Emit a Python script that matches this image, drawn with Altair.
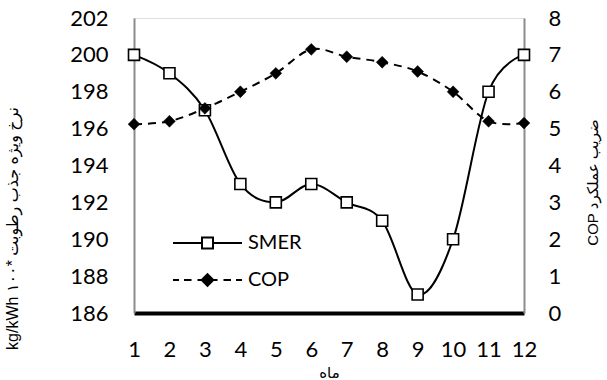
import altair as alt
import pandas as pd

months = [1, 2, 3, 4, 5, 6, 7, 8, 9, 10, 11, 12]
smer = [200, 199, 197, 193, 192, 193, 192, 191, 187, 190, 198, 200]
cop = [5.12, 5.2, 5.55, 6.0, 6.5, 7.15, 6.95, 6.8, 6.55, 6.0, 5.2, 5.15]
series = ["SMER", "COP"]
left_ticks = [186, 188, 190, 192, 194, 196, 198, 200, 202]
right_ticks = [0, 1, 2, 3, 4, 5, 6, 7, 8]

left_title = "kg/kWh ۱۰۰* نرخ ویژه جذب رطوبت"
right_title = "COP ضریب عملکرد"
x_title = "ماه"

NUM_FONT = "Lato"
TXT_FONT = "Liberation Sans, DejaVu Sans"

df = pd.DataFrame({"month": months, "smer": smer, "cop": cop})
leg_df = pd.DataFrame({"series": series, "month": [1, 1]})

x_enc = alt.X(
    "month:Q",
    scale=alt.Scale(domain=[1, 12], nice=False, zero=False),
    axis=alt.Axis(
        values=months, title=x_title, grid=False, ticks=False, labelOverlap=False,
        labelFlush=False, domainColor="black", domainWidth=4,
        labelFont=NUM_FONT, labelFontSize=22, labelColor="black", labelPadding=26,
        titleFont=TXT_FONT, titleFontSize=15, titleFontWeight="normal", titleColor="black",
        titleY=59, titleBaseline="middle",
    ),
)

smer_scale = alt.Scale(domain=[186, 202], nice=False, zero=False)
smer_axis = alt.Axis(
    values=left_ticks, title=left_title, grid=False, ticks=False, labelOverlap=False,
    labelFlush=False, domainColor="#8c8c8c", domainWidth=2,
    labelFont=NUM_FONT, labelFontSize=22, labelColor="black", labelPadding=26,
    titleFont=TXT_FONT, titleFontSize=16, titleFontWeight="normal", titleColor="black",
    titleAngle=270, titleX=-122, titleY=210, titleAlign="center", titleBaseline="middle",
)
cop_scale = alt.Scale(domain=[0, 8], nice=False, zero=False)
cop_axis = alt.Axis(
    orient="right", values=right_ticks, title=right_title, grid=False, ticks=False,
    labelOverlap=False, labelFlush=False, domainColor="#8c8c8c", domainWidth=2,
    labelFont=NUM_FONT, labelFontSize=22, labelColor="black", labelPadding=24,
    titleFont=TXT_FONT, titleFontSize=15, titleFontWeight="normal", titleColor="black",
    titleAngle=270, titleX=68, titleY=164, titleAlign="center", titleBaseline="middle",
)

base = alt.Chart(df)

smer_line = base.mark_line(color="black", strokeWidth=2, interpolate="cardinal").encode(
    x=x_enc, y=alt.Y("smer:Q", scale=smer_scale, axis=smer_axis)
)
smer_pts = base.mark_point(shape="square", size=121, filled=True, fill="white",
                           stroke="black", strokeWidth=1.6, opacity=1).encode(
    x=x_enc, y=alt.Y("smer:Q", scale=smer_scale, axis=smer_axis)
)
cop_line = base.mark_line(color="black", strokeWidth=2, strokeDash=[8, 6],
                          interpolate="cardinal").encode(
    x=x_enc, y=alt.Y("cop:Q", scale=cop_scale, axis=cop_axis)
)
cop_pts = base.mark_point(shape="diamond", size=140, filled=True, fill="black",
                          stroke="black", strokeWidth=0.5, opacity=1).encode(
    x=x_enc, y=alt.Y("cop:Q", scale=cop_scale, axis=cop_axis)
)

path_smer = "M-3.45,0L-0.55,0M0.55,0L3.45,0M-0.55,-0.55L0.55,-0.55L0.55,0.55L-0.55,0.55Z"
path_cop = ("M-3.45,0L-2.85,0M-2.35,0L-1.6,0M-1.0,0L1.0,0M1.6,0L2.35,0M2.85,0L3.45,0"
            "M0,-0.58L0.58,0L0,0.58L-0.58,0Z")

leg = alt.Legend(
    title=None, orient="none", legendX=62.5, legendY=214, padding=0,
    symbolSize=400, symbolStrokeWidth=2, symbolStrokeColor="black", symbolOpacity=1,
    labelFont=NUM_FONT, labelFontSize=20, labelColor="black",
    labelOffset=29.5, rowPadding=16,
)
legend_layer = alt.Chart(leg_df).mark_point(opacity=0, filled=True, strokeWidth=2).encode(
    x=x_enc,
    shape=alt.Shape("series:N", scale=alt.Scale(domain=series, range=[path_smer, path_cop]),
                    legend=leg),
    fill=alt.Fill("series:N", scale=alt.Scale(domain=series, range=["white", "black"]),
                  legend=leg),
    stroke=alt.Stroke("series:N", scale=alt.Scale(domain=series, range=["black", "black"]),
                      legend=leg),
)

left = alt.layer(smer_line, smer_pts)
right = alt.layer(cop_line, cop_pts)

chart = alt.layer(left, right, legend_layer).resolve_scale(
    y="independent"
).properties(
    width=390, height=295,
    autosize=alt.AutoSizeParams(type="none"),
    padding={"left": 134, "top": 18, "right": 83, "bottom": 67},
).configure_view(stroke=None).configure(background="white")

chart.save("out.html", embed_options={"renderer": "svg", "actions": False})
